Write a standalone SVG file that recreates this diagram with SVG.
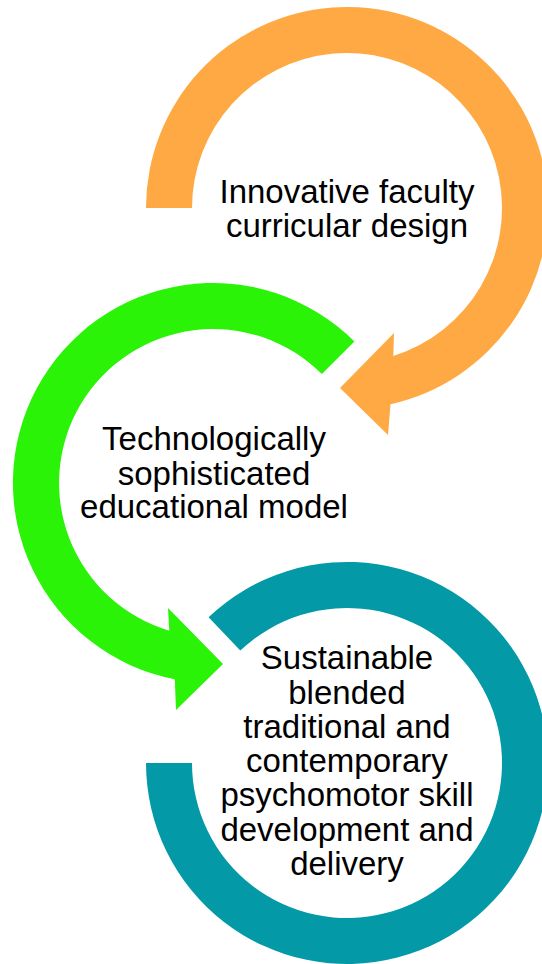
<svg xmlns="http://www.w3.org/2000/svg" width="542" height="964" viewBox="0 0 542 964">
<style>
  .lbl { font-family: "Liberation Sans", Arial, sans-serif; font-size: 33px; fill: #000; text-anchor: middle; }
  .orange { fill: #FEA943; }
  .green { fill: #2BF307; }
  .teal { fill: #0399A7; }
</style>
<rect width="542" height="964" fill="#fff"/>
<g id="connectors">
  <path id="arrow-orange" class="orange" d="M146,208 A201,201 0 1 1 390.5,404.2 L388,435 L340,388 L394,333 L393.3,355.9 A155,155 0 1 0 192,208 Z"/>
  <path id="arrow-green" class="green" d="M354.4,341.6 A200,200 0 1 0 174.8,679.3 L176,710 L223,664 L168,608 L169.3,630.7 A154,154 0 1 1 321.9,374.1 Z"/>
  <path id="ring-teal" class="teal" d="M208.6,617.2 A201,201 0 1 1 146,763 L192,763 A155,155 0 1 0 240.3,650.6 Z"/>
</g>
<g id="node-innovative">
  <text class="lbl" x="347" y="203">Innovative faculty</text>
  <text class="lbl" x="347" y="237">curricular design</text>
</g>
<g id="node-technological">
  <text class="lbl" x="214" y="450">Technologically</text>
  <text class="lbl" x="214" y="485">sophisticated</text>
  <text class="lbl" x="214" y="518">educational model</text>
</g>
<g id="node-sustainable">
  <text class="lbl" x="347" y="669">Sustainable</text>
  <text class="lbl" x="347" y="704">blended</text>
  <text class="lbl" x="347" y="738">traditional and</text>
  <text class="lbl" x="347" y="772">contemporary</text>
  <text class="lbl" x="347" y="806">psychomotor skill</text>
  <text class="lbl" x="347" y="841">development and</text>
  <text class="lbl" x="347" y="875">delivery</text>
</g>
</svg>
